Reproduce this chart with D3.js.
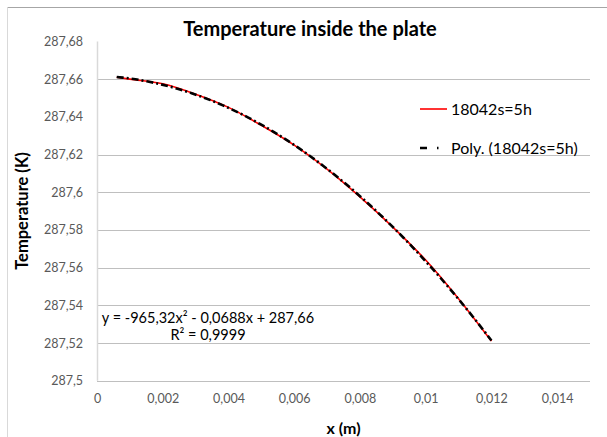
<html>
<head>
<script src="https://d3js.org/d3.v7.min.js"></script>
<style>
  body { margin: 0; background: #fff; }
  svg text { font-family: Lato, "Open Sans", sans-serif; }
  .tick text { fill: #595959; font-size: 12.5px; }
</style>
</head>
<body>
<script>
// values
let xPos = [0.0006, 0.001, 0.002, 0.003, 0.004, 0.005, 0.006, 0.007, 0.008, 0.009, 0.010, 0.011, 0.012];
let temps = [287.6610, 287.6600, 287.6575, 287.6520, 287.6450, 287.6355, 287.6250, 287.6122, 287.5975, 287.5815, 287.5640, 287.5435, 287.5210];

let xTicks = [0, 0.002, 0.004, 0.006, 0.008, 0.010, 0.012, 0.014];
let xTickLabels = ["0", "0,002", "0,004", "0,006", "0,008", "0,01", "0,012", "0,014"];
let yTicks = [287.5, 287.52, 287.54, 287.56, 287.58, 287.6, 287.62, 287.64, 287.66, 287.68];
let yTickLabels = ["287,5", "287,52", "287,54", "287,56", "287,58", "287,6", "287,62", "287,64", "287,66", "287,68"];
let gridTicks = [287.52, 287.54, 287.56, 287.58, 287.6, 287.62, 287.66];

let seriesName = "18042s=5h";
let trendName = "Poly. (18042s=5h)";
let equation = "y = -965,32x² - 0,0688x + 287,66";
let rSquared = "R² = 0,9999";

let width = 607, height = 437;
let plot = {left: 97, right: 590, top: 41.4, bottom: 380.7};

let svg = d3.select("body").append("svg")
    .attr("width", width)
    .attr("height", height);

// chart frame (cropped at right / bottom)
svg.append("line").attr("x1", 7.5).attr("x2", width).attr("y1", 7.5).attr("y2", 7.5)
    .attr("stroke", "#a6a6a6");
svg.append("line").attr("x1", 7.5).attr("x2", 7.5).attr("y1", 7.5).attr("y2", height)
    .attr("stroke", "#d9d9d9");

let x = d3.scaleLinear().domain([0, 0.015]).range([plot.left, plot.right]);
let y = d3.scaleLinear().domain([287.5, 287.68]).range([plot.bottom, plot.top]);

// gridlines
svg.append("g").selectAll("line").data(gridTicks).join("line")
    .attr("x1", plot.left).attr("x2", plot.right)
    .attr("y1", d => Math.round(y(d)) + 0.5).attr("y2", d => Math.round(y(d)) + 0.5)
    .attr("stroke", "#bfbfbf");

// axes
let yAxis = d3.axisLeft(y).tickValues(yTicks)
    .tickFormat((d, i) => yTickLabels[i]).tickSize(0).tickPadding(14);
svg.append("g").attr("transform", `translate(${plot.left},0)`).call(yAxis)
    .call(g => g.select(".domain").remove());

let xAxis = d3.axisBottom(x).tickValues(xTicks)
    .tickFormat((d, i) => xTickLabels[i]).tickSize(0).tickPadding(13);
svg.append("g").attr("transform", `translate(0,${plot.bottom})`).call(xAxis)
    .call(g => g.select(".domain").remove());

svg.append("line")
    .attr("x1", plot.left + 0.5).attr("x2", plot.left + 0.5)
    .attr("y1", plot.top).attr("y2", plot.bottom)
    .attr("stroke", "#d9d9d9").attr("stroke-width", 1.5);
svg.append("line")
    .attr("x1", plot.left).attr("x2", plot.right)
    .attr("y1", Math.round(plot.bottom) + 0.5).attr("y2", Math.round(plot.bottom) + 0.5)
    .attr("stroke", "#bfbfbf");

// series
let pts = xPos.map((d, i) => [d, temps[i]]);
let line = d3.line().x(d => x(d[0])).y(d => y(d[1])).curve(d3.curveMonotoneX);

svg.append("path").datum(pts)
    .attr("d", line)
    .attr("fill", "none").attr("stroke", "#ff0000").attr("stroke-width", 1.6);

// 2nd order least squares trendline from the data
function polyFit(p) {
    let s = [0, 0, 0, 0, 0], t = [0, 0, 0];
    let x0 = 0.006;
    p.forEach(([a, b]) => {
        let u = a - x0, v = b - 287.6;
        for (let k = 0; k < 5; k++) s[k] += Math.pow(u, k);
        for (let k = 0; k < 3; k++) t[k] += v * Math.pow(u, k);
    });
    let M = [[s[0], s[1], s[2], t[0]], [s[1], s[2], s[3], t[1]], [s[2], s[3], s[4], t[2]]];
    for (let i = 0; i < 3; i++) {
        for (let j = i + 1; j < 3; j++) {
            let f = M[j][i] / M[i][i];
            for (let k = i; k < 4; k++) M[j][k] -= f * M[i][k];
        }
    }
    let c = [0, 0, 0];
    for (let i = 2; i >= 0; i--) {
        let sum = M[i][3];
        for (let k = i + 1; k < 3; k++) sum -= M[i][k] * c[k];
        c[i] = sum / M[i][i];
    }
    return a => 287.6 + c[0] + c[1] * (a - x0) + c[2] * (a - x0) * (a - x0);
}
let fit = polyFit(pts);
let xs = d3.range(0, 61).map(i => xPos[0] + (xPos[xPos.length - 1] - xPos[0]) * i / 60);
let trendPts = xs.map(a => [a, fit(a)]);

svg.append("path").datum(trendPts)
    .attr("d", d3.line().x(d => x(d[0])).y(d => y(d[1])))
    .attr("fill", "none").attr("stroke", "#000").attr("stroke-width", 2.6)
    .attr("stroke-dasharray", "7,3,2,3");

// title
svg.append("text")
    .attr("x", 310).attr("y", 36)
    .attr("text-anchor", "middle")
    .attr("font-size", 20).attr("font-weight", "bold").attr("fill", "#000")
    .text("Temperature inside the plate");

// axis titles
svg.append("text")
    .attr("x", (plot.left + plot.right) / 2).attr("y", 434)
    .attr("text-anchor", "middle")
    .attr("font-size", 16).attr("font-weight", "bold").attr("fill", "#000")
    .text("x (m)");

svg.append("text")
    .attr("transform", `translate(28,${(plot.top + plot.bottom) / 2}) rotate(-90)`)
    .attr("text-anchor", "middle")
    .attr("font-size", 16.5).attr("font-weight", "bold").attr("fill", "#000")
    .text("Temperature (K)");

// legend
let legend = svg.append("g");
legend.append("line").attr("x1", 420).attr("x2", 447).attr("y1", 109).attr("y2", 109)
    .attr("stroke", "#ff0000").attr("stroke-width", 1.6);
legend.append("text").attr("x", 451).attr("y", 115)
    .attr("font-size", 16).attr("fill", "#000").text(seriesName);
legend.append("line").attr("x1", 420).attr("x2", 442).attr("y1", 148).attr("y2", 148)
    .attr("stroke", "#000").attr("stroke-width", 2.6)
    .attr("stroke-dasharray", "7,10,1.5,10");
legend.append("text").attr("x", 451).attr("y", 154)
    .attr("font-size", 16).attr("fill", "#000").text(trendName);

// trendline label
svg.append("text").attr("x", 208).attr("y", 323)
    .attr("text-anchor", "middle").attr("font-size", 14.5).attr("fill", "#000")
    .text(equation);
svg.append("text").attr("x", 208).attr("y", 340)
    .attr("text-anchor", "middle").attr("font-size", 14.5).attr("fill", "#000")
    .text(rSquared);
</script>
</body>
</html>
